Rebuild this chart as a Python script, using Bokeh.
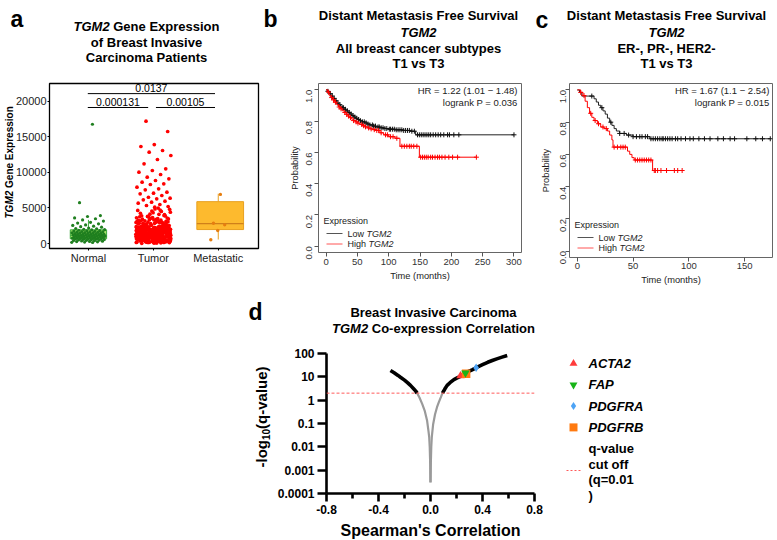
import math
import numpy as np
from bokeh.plotting import figure
from bokeh.layouts import row, column
from bokeh.models import (Range1d, FixedTicker, NumeralTickFormatter, CustomJSTickFormatter,
                          Span, Spacer, GridBox)
from bokeh.core.properties import value
from bokeh.embed import file_html
from bokeh.resources import INLINE

FONT = "Liberation Sans"

# ---------------------------------------------------------------- data
# panel a : TGM2 expression
groups = ["Normal", "Tumor", "Metastatic"]
normal_vals = [16750, 5740, 3930, 3790, 3600, 3480, 3310, 3150, 2980, 2870, 2760, 2610,
               2540, 2430, 2360, 2290, 2180, 2110, 2060, 1995, 1940, 1905, 1862, 1818,
               1790, 1745, 1712, 1690, 1655, 1621, 1598, 1570, 1534, 1511, 1486, 1462,
               1433, 1410, 1388, 1365, 1342, 1318, 1296, 1270, 1251, 1228, 1207, 1184,
               1163, 1141, 1122, 1098, 1075, 1057, 1033, 1012, 994, 971, 950, 932, 908,
               887, 866, 845, 822, 803, 778, 756, 731, 712, 688, 661, 640, 612, 588, 563,
               534, 507, 482, 451, 420, 393, 362, 331, 298, 270, 236, 204, 172, 141]
tumor_vals = [
    812, 1530, 245, 1977, 660, 1204, 2288, 431, 1745, 998, 153, 1389, 2105, 720, 1612, 369,
    1853, 1077, 2391, 540, 1290, 85, 1950, 880, 1475, 2214, 312, 1130, 1698, 602, 2037, 1402,
    205, 1819, 957, 2310, 475, 1566, 1249, 790, 2160, 130, 1675, 1023, 398, 1910, 1337, 2255,
    685, 1487, 60, 1790, 1162, 2070, 520, 1604, 934, 2345, 287, 1430, 1885, 745, 1215, 2190,
    448, 1545, 1010, 175, 1965, 1322, 2275, 630, 1720, 1095, 2005, 355, 1452, 866, 2135, 1180,
    560, 1840, 225, 1638, 1265, 2380, 705, 1512, 972, 1995, 410, 1760, 1140, 2230, 95, 1385,
    835, 2085, 1590, 495, 1905, 1058, 2322, 270, 1685, 1225, 765, 2040, 1460, 340, 1815, 920,
    2170, 1355, 585, 1735, 1110, 2295, 190, 1575, 1040, 1930, 655, 1420, 2110, 385, 1800, 1190,
    2360, 735, 1625, 115, 1495, 1875, 1005, 2210, 455, 1280, 1710, 855, 2060, 300, 1540, 1150,
    1985, 615, 2335, 1370, 950, 1775, 230, 1665, 2150, 1085, 520, 1445, 1895, 780, 2265, 1310,
    165, 1650, 1050, 2015, 425, 1525, 895, 2240, 1235, 1830, 690, 1405, 2095, 355, 1165, 1745,
    985, 2370, 575, 1555, 1950, 810, 1265, 2185, 140, 1690, 1075, 2050, 465, 1350,
    1412, 288, 1877, 1033, 2247, 612, 1568, 143, 1996, 1187, 757, 2128, 503, 1699, 1326, 2398,
    874, 1463, 27, 1921, 1068, 2283, 391, 1602, 1245, 814, 2066, 1517, 228, 1843, 968, 2341,
    672, 1409, 1131, 1958, 437, 1776, 2219, 1015, 317, 1629, 1292, 2172, 728, 1884, 1097, 2303,
    561, 1486, 198, 1731, 1177, 2009, 846, 1553, 2386, 379, 1305, 1810, 943, 2234, 638, 1446,
    1116, 1975, 262, 1660, 2097, 1021, 489, 1798, 1348, 2321, 703, 1587, 158, 1902, 1203, 2145,
    859, 1478, 2262, 412, 1746, 1058, 1937, 592, 1381, 2204, 1141, 309, 1665, 2043, 907, 1522,
    2355, 746, 1261, 1864, 472, 1616, 2117, 1002, 1394, 2277, 651, 1725, 209, 1949, 1215, 2185,
    829, 1501, 1835, 364, 1078, 2058, 1642, 544,
    2480, 2620, 2550, 2750, 2900, 2680, 3050, 2830, 3200, 2580, 3350, 2960, 3500, 2710, 3100,
    3650, 2860, 3280, 3800, 2520, 3000, 3420, 3950, 2780, 3150, 4100, 2640, 3580, 3330, 4250,
    2940, 3720, 4400, 3060, 2590, 3880, 4550, 3240, 4700, 2730, 3460, 4850, 3900, 2880, 4120,
    3620, 4980, 3180, 2660, 4330, 3760, 4500, 3010, 4800, 3390, 2810, 4050, 3550, 4650, 3120,
    17180, 15730, 13900, 13620, 13060, 12820, 12360, 11800, 11190, 10490, 10250, 10020, 9690,
    9310, 9080, 8850, 8610, 8380, 8290, 7910, 7680, 7540, 7210, 7070, 6980, 6740, 6500, 6360,
    6280, 6140, 5940, 5800, 5660, 5480, 5340, 5200, 5100]
meta_vals = [6900, 2850, 2620, 1820, 520]
# box statistics: low whisker, q1, median, q3, high whisker
normal_box = [60, 660, 1150, 1920, 3320]
meta_box = [560, 1960, 2800, 5880, 7000]
sig_pairs = [[1, 2], [2, 3], [1, 3]]
sig_pvals = ["0.000131", "0.00105", "0.0137"]

# panel b : all subtypes (time in months, survival probability)
b_low_t = [0, 2, 5, 8, 11, 14, 17, 20, 23, 26, 29, 32, 35, 38, 41, 44, 47, 50, 54, 58, 62,
           66, 70, 75, 80, 86, 92, 100, 110, 122, 134, 143]
b_low_s = [1.0, .99, .975, .96, .945, .93, .915, .905, .895, .885, .875, .865, .855, .845,
           .835, .826, .818, .81, .802, .795, .788, .781, .775, .768, .762, .757, .752, .748,
           .744, .74, .735, .712]
b_low_end = 300
b_low_cens = [3, 7, 10, 13, 16, 19, 22, 26, 28, 31, 34, 37, 40, 43, 46, 49, 52, 55, 58, 61,
              64, 67, 70, 74, 76, 79, 83, 85, 88, 91, 94, 97, 101, 103, 106, 109, 112, 115,
              118, 121, 124, 127, 130, 133, 137, 141, 146, 149, 152, 155, 158, 161, 164, 167,
              171, 175, 179, 183, 188, 194, 197, 204, 212, 300]
b_high_t = [0, 2, 5, 8, 11, 14, 17, 20, 23, 26, 29, 32, 35, 38, 41, 44, 47, 50, 54, 58, 62,
            66, 70, 75, 80, 86, 92, 100, 110, 118, 149]
b_high_s = [1.0, .985, .965, .95, .935, .92, .905, .89, .878, .866, .855, .843, .832, .822,
            .812, .803, .795, .787, .778, .77, .763, .756, .75, .745, .74, .725, .712, .70,
            .69, .639, .569]
b_high_end = 240
b_high_cens = [4, 9, 12, 15, 21, 24, 30, 33, 36, 39, 44, 48, 51, 57, 60, 63, 68, 72, 77, 81,
               84, 88, 95, 98, 103, 107, 113, 121, 125, 129, 133, 136, 140, 145, 151, 154,
               157, 160, 163, 167, 170, 174, 178, 181, 185, 190, 196, 202, 210, 240]

# panel c : ER-, PR-, HER2-
c_low_t = [0, 2, 4, 15, 17, 19, 21, 23, 25, 27, 29, 31, 33, 35, 38, 44, 50, 65]
c_low_s = [1.0, .985, .962, .945, .925, .905, .89, .87, .85, .825, .80, .78, .76, .745, .73,
           .72, .71, .697]
c_low_end = 173
c_low_cens = [13, 22, 30, 38, 42, 46, 50, 53, 56, 58, 61, 63, 66, 68, 70, 72, 74, 76, 77, 79,
              81, 83, 85, 88, 90, 93, 97, 101, 104, 109, 114, 119, 126, 131, 137, 141, 152,
              160, 166, 173]
c_high_t = [0, 3, 5, 7, 9, 11, 13, 15, 18, 21, 24, 27, 29, 31, 32, 45, 47, 49, 51, 67.5]
c_high_s = [1.0, .985, .965, .93, .89, .855, .83, .81, .79, .77, .76, .745, .72, .69, .645,
            .62, .60, .58, .565, .50]
c_high_end = 94
c_high_cens = [3, 6, 12, 16, 19, 23, 26, 33, 36, 39, 41, 43, 52, 54, 56, 58, 60, 62, 64, 66,
               69, 70, 72, 75, 80, 87, 90, 94]

# panel d : Spearman correlation vs -log10(q)
d_neg_sig_r = [-0.308, -0.28, -0.25, -0.231, -0.2, -0.175, -0.154, -0.13, -0.115, -0.103]
d_neg_sig_q = [18.6, 15, 11.5, 9.6, 7.2, 5.5, 4.3, 3.1, 2.5, 2.0]
d_neg_ns_r = [-0.103, -0.085, -0.064, -0.045, -0.026, -0.015, -0.01, -0.006, -0.003, -0.001]
d_neg_ns_q = [2.0, 1.3, 0.69, 0.36, 0.13, 0.045, 0.026, 0.01, 0.0025, 0.0003]
d_pos_ns_r = [0.001, 0.003, 0.006, 0.01, 0.02, 0.035, 0.05, 0.065, 0.08, 0.092]
d_pos_ns_q = [0.0003, 0.0025, 0.01, 0.026, 0.09, 0.25, 0.5, 0.85, 1.35, 2.0]
d_pos_sig_r = [0.092, 0.11, 0.128, 0.15, 0.18, 0.205, 0.23, 0.255, 0.28, 0.32, 0.36, 0.40,
               0.44, 0.475, 0.51, 0.55, 0.59]
d_pos_sig_q = [2.0, 3.0, 4.3, 5.6, 7.6, 9.0, 10.5, 13, 15.8, 20, 25.8, 33, 42, 50, 59, 70, 82]
genes = ["ACTA2", "FAP", "PDGFRA", "PDGFRB"]
gene_r = [0.231, 0.269, 0.351, 0.274]
gene_q = [11.0, 14.8, 24.3, 13.5]
q_cutoff = 0.01

gene_markers = ["triangle", "inverted_triangle", "diamond", "square"]
gene_colors = ["#FF3B3B", "#18B418", "#4DA3F5", "#FF7A10"]

# ---------------------------------------------------------------- helpers
REG = {' ': 278, '-': 333, '(': 333, ')': 333, '.': 278, ',': 278, '=': 584, "'": 191,
       'A': 667, 'B': 667, 'C': 722, 'D': 722, 'E': 667, 'F': 611, 'G': 778, 'H': 722,
       'I': 278, 'L': 556, 'M': 833, 'N': 722, 'O': 778, 'P': 667, 'R': 722, 'S': 667,
       'T': 611, 'a': 556, 'b': 556, 'c': 500, 'd': 556, 'e': 556, 'f': 278, 'g': 556,
       'h': 556, 'i': 222, 'j': 222, 'k': 500, 'l': 222, 'm': 833, 'n': 556, 'o': 556,
       'p': 556, 'q': 556, 'r': 333, 's': 500, 't': 278, 'u': 556, 'v': 500, 'w': 722,
       'x': 500, 'y': 500}
BOLD = {' ': 278, '-': 333, '(': 333, ')': 333, '.': 278, ',': 278, '=': 584, "'": 238,
        'A': 722, 'B': 722, 'C': 722, 'D': 722, 'E': 667, 'F': 611, 'G': 778, 'H': 722,
        'I': 278, 'L': 611, 'M': 833, 'N': 722, 'O': 778, 'P': 667, 'R': 722, 'S': 667,
        'T': 611, 'a': 556, 'b': 611, 'c': 556, 'd': 611, 'e': 556, 'f': 333, 'g': 611,
        'h': 611, 'i': 278, 'j': 278, 'k': 556, 'l': 278, 'm': 889, 'n': 611, 'o': 611,
        'p': 611, 'q': 611, 'r': 389, 's': 556, 't': 333, 'u': 611, 'v': 556, 'w': 778,
        'x': 556, 'y': 556}


def tw(s, size, bold):
    tab = BOLD if bold else REG
    return sum(tab.get(c, 556) for c in s) * size / 1000.0


def spread(n, half):
    return [((k * 0.6180339887) % 1.0 - 0.5) * 2 * half for k in range(1, n + 1)]


def clean(p):
    p.xgrid.visible = False
    p.ygrid.visible = False
    p.background_fill_color = None
    p.border_fill_color = None
    p.min_border = 0


# ---------------------------------------------------------------- panel a
fa = figure(frame_width=209, frame_height=165, x_range=Range1d(0.4, 3.62),
            y_range=Range1d(-700, 22470), output_backend="svg", toolbar_location=None)
clean(fa)
fa.min_border_left, fa.min_border_right, fa.min_border_top, fa.min_border_bottom = 49, 2, 83, 42
fa.outline_line_color = "black"
fa.outline_line_width = 1.3
fa.xaxis.ticker = FixedTicker(ticks=[1, 2, 3])
fa.xaxis.major_label_overrides = {i + 1: g for i, g in enumerate(groups)}
fa.yaxis.ticker = FixedTicker(ticks=[0, 5000, 10000, 15000, 20000])
for ax in (fa.xaxis[0], fa.yaxis[0]):
    ax.axis_line_color = None
    ax.major_tick_out = 2
    ax.major_tick_in = 0
    ax.minor_tick_line_color = None
    ax.major_label_text_font = FONT
    ax.major_label_text_font_size = "11px"
    ax.major_label_text_color = "#222222"
    ax.major_label_standoff = 1

fa.vbar(x=[1], width=0.56, bottom=[normal_box[1]], top=[normal_box[3]],
        fill_color="#A8E46A", line_color="#3DAA3D", line_width=1)
fa.segment(x0=[1, 0.72], y0=[normal_box[3], normal_box[2]], x1=[1, 1.28],
           y1=[normal_box[4], normal_box[2]], line_color="#3DAA3D", line_width=1)
fa.scatter(x=[1 + d for d in spread(len(normal_vals), 0.26)], y=normal_vals, size=3.2,
           color="#1F7F1F", line_width=0)
fa.scatter(x=[2 + d for d in spread(len(tumor_vals), 0.27)], y=tumor_vals, size=3.7,
           color="#FF0000", line_width=0)
fa.segment(x0=[3, 3], y0=[meta_box[0], meta_box[3]], x1=[3, 3], y1=[meta_box[1], meta_box[4]],
           line_color="#E8A020", line_width=1)
fa.vbar(x=[3.03], width=0.72, bottom=[meta_box[1]], top=[meta_box[3]],
        fill_color="#FDBA2E", line_color="#E8A020", line_width=1)
fa.segment(x0=[2.67], y0=[meta_box[2]], x1=[3.39], y1=[meta_box[2]], line_color="#D0801A",
           line_width=1.2)
fa.scatter(x=[3 + d for d in spread(len(meta_vals), 0.14)], y=meta_vals, size=3.4,
           color="#E67E10", line_width=0)
levels = [19100, 19100, 21050]
bx0 = [a + (0.04 if a > 1 else -0.01) for a, b in sig_pairs]
bx1 = [b - (0.08 if b < 3 else 0.05) for a, b in sig_pairs]
fa.segment(x0=bx0, y0=levels, x1=bx1, y1=levels, line_color="black", line_width=1)
fa.text(x=[(a + b) / 2 for a, b in zip(bx0, bx1)], y=[l + 250 for l in levels], text=sig_pvals,
        text_font=value(FONT), text_font_size="10.5px", text_align="center",
        text_baseline="bottom", text_color="black")


# ---------------------------------------------------------------- KM panels
def km(p, t, s, end, cens, color, cross_color):
    xs = list(t) + [end]
    ys = list(s) + [s[-1]]
    p.step(x=xs, y=ys, mode="after", line_color=color, line_width=1)
    idx = np.searchsorted(np.array(t), np.array(cens), side="right") - 1
    p.scatter(x=cens, y=[s[i] for i in idx], marker="cross", size=5, line_color=cross_color,
              line_width=1)


def r_axes(p, xt, yt):
    p.outline_line_color = "#666666"
    p.outline_line_width = 1
    p.xaxis.ticker = FixedTicker(ticks=xt)
    p.yaxis.ticker = FixedTicker(ticks=yt)
    p.yaxis.formatter = NumeralTickFormatter(format="0.0")
    p.yaxis.major_label_orientation = math.pi / 2
    for ax in (p.xaxis[0], p.yaxis[0]):
        ax.axis_line_color = None
        ax.major_tick_out = 4
        ax.major_tick_in = 0
        ax.major_tick_line_color = "#555555"
        ax.minor_tick_line_color = None
        ax.major_label_text_font = FONT
        ax.major_label_text_font_size = "9.5px"
        ax.major_label_text_color = "#333333"
        ax.axis_label_text_font = FONT
        ax.axis_label_text_font_size = "9.3px"
        ax.axis_label_text_font_style = "normal"
        ax.axis_label_text_color = "#222222"
    p.xaxis.axis_label = "Time (months)"
    p.yaxis.axis_label = "Probability"


fb = figure(frame_width=203, frame_height=169, x_range=Range1d(-12, 312),
            y_range=Range1d(-0.04, 1.04), output_backend="svg", toolbar_location=None)
clean(fb)
fb.min_border_left, fb.min_border_right, fb.min_border_top, fb.min_border_bottom = 58, 6, 83, 38
r_axes(fb, [0, 50, 100, 150, 200, 250, 300], [0, 0.2, 0.4, 0.6, 0.8, 1.0])
fb.xaxis.major_label_standoff = 2
fb.xaxis.axis_label_standoff = 3
fb.yaxis.major_label_standoff = 5
fb.yaxis.axis_label_standoff = 1
km(fb, b_low_t, b_low_s, b_low_end, b_low_cens, "#222222", "#111111")
km(fb, b_high_t, b_high_s, b_high_end, b_high_cens, "#FF0000", "#FF0000")

fc = figure(frame_width=203, frame_height=174, x_range=Range1d(-7, 175),
            y_range=Range1d(-0.04, 1.04), output_backend="svg", toolbar_location=None)
clean(fc)
fc.min_border_left, fc.min_border_right, fc.min_border_top, fc.min_border_bottom = 42, 5, 83, 33
r_axes(fc, [0, 50, 100, 150], [0, 0.2, 0.4, 0.6, 0.8, 1.0])
fc.xaxis.major_label_standoff = 1
fc.xaxis.axis_label_standoff = 3
fc.yaxis.major_label_standoff = 2
fc.yaxis.axis_label_standoff = 4
km(fc, c_low_t, c_low_s, c_low_end, c_low_cens, "#222222", "#111111")
km(fc, c_high_t, c_high_s, c_high_end, c_high_cens, "#FF0000", "#FF0000")

# ---------------------------------------------------------------- panel d
fd = figure(frame_width=208, frame_height=140, x_range=Range1d(-0.8, 0.8),
            y_range=Range1d(1e-4, 100), y_axis_type="log", output_backend="svg",
            toolbar_location=None)
clean(fd)
fd.min_border_left, fd.min_border_right, fd.min_border_top, fd.min_border_bottom = 86, 26, 63, 47
fd.outline_line_color = None
fd.xaxis.ticker = FixedTicker(ticks=[-0.8, -0.4, 0, 0.4, 0.8], minor_ticks=[-0.6, -0.2, 0.2, 0.6])
fd.xaxis.formatter = NumeralTickFormatter(format="0.0")
fd.yaxis.ticker = FixedTicker(ticks=[1e-4, 1e-3, 1e-2, 1e-1, 1, 10, 100], minor_ticks=[])
fd.yaxis.formatter = CustomJSTickFormatter(code="return tick.toString();")
for ax in (fd.xaxis[0], fd.yaxis[0]):
    ax.axis_line_color = "black"
    ax.axis_line_width = 2.6
    ax.major_tick_line_width = 2.6
    ax.major_tick_in = 0
    ax.major_label_text_font = FONT
    ax.major_label_text_font_size = "12px"
    ax.major_label_text_font_style = "bold"
    ax.major_label_text_color = "black"
fd.yaxis.major_tick_out = 9
fd.yaxis.major_label_standoff = 3
fd.yaxis.minor_tick_line_color = None
fd.xaxis.major_tick_out = 8
fd.xaxis.minor_tick_out = 5
fd.xaxis.minor_tick_in = 0
fd.xaxis.minor_tick_line_width = 2.6
fd.xaxis.major_label_standoff = 3
fd.xaxis.axis_label = "Spearman's Correlation"
fd.xaxis.axis_label_text_font = FONT
fd.xaxis.axis_label_text_font_size = "16px"
fd.xaxis.axis_label_text_font_style = "bold"
fd.xaxis.axis_label_text_color = "black"
fd.xaxis.axis_label_standoff = 5

fd.line(x=d_neg_ns_r, y=d_neg_ns_q, line_color="#9A9A9A", line_width=2.2)
fd.line(x=d_pos_ns_r, y=d_pos_ns_q, line_color="#9A9A9A", line_width=2.2)
fd.line(x=d_neg_sig_r, y=d_neg_sig_q, line_color="black", line_width=3.6)
fd.line(x=d_pos_sig_r, y=d_pos_sig_q, line_color="black", line_width=3.6)
fd.add_layout(Span(location=-math.log10(q_cutoff), dimension="width", line_color="#FF5A5A",
                   line_width=1, line_dash="3 2"))
draw_order = [0, 3, 2, 1]   # FAP drawn last, on top of PDGFRB as in the original
fd.scatter(x=[gene_r[i] for i in draw_order], y=[gene_q[i] for i in draw_order],
           marker=[gene_markers[i] for i in draw_order],
           color=[gene_colors[i] for i in draw_order], size=8.5, line_width=0)

# ---------------------------------------------------------------- overlay for titles/labels
W, H = 777, 540
ov = figure(width=W, height=H, x_range=Range1d(0, W), y_range=Range1d(0, H),
            x_axis_location=None, y_axis_location=None, output_backend="svg",
            toolbar_location=None)
clean(ov)
ov.outline_line_color = None


def T(X, Y, text, size, style="normal", align="left", baseline="middle", color="black",
      angle=0.0):
    ov.text(x=[X], y=[H - Y], text=[text], text_font=value(FONT),
            text_font_size=f"{size}px", text_font_style=style, text_align=align,
            text_baseline=baseline, text_color=color, angle=angle)


def T_line(X, Y, pieces, size, align="center", color="black"):
    widths = [tw(t, size, "bold" in st) for t, st in pieces]
    total = sum(widths)
    x = X - total / 2 if align == "center" else (X - total if align == "right" else X)
    for (t, st), w in zip(pieces, widths):
        lead = len(t) - len(t.lstrip(" "))
        T(x + tw(" " * lead, size, "bold" in st), Y, t.strip(" "), size, st, "left",
          "middle", color)
        x += w


def T_vline(X, Ybot, pieces, color="black"):
    y = Ybot
    for t, st, size, dx in pieces:
        lead = len(t) - len(t.lstrip(" "))
        T(X + dx, y - tw(" " * lead, size, "bold" in st), t.strip(" "), size, st, "left",
          "middle", color, angle=math.pi / 2)
        y -= tw(t, size, "bold" in st)


def km_legend(X, Y):
    T(X, Y, "Expression", 9, color="#222222")
    for k, (lab, col) in enumerate([("Low", "#555555"), ("High", "#FF5555")]):
        yy = Y + 13 + 10.5 * k
        ov.segment(x0=[X + 3], y0=[H - yy], x1=[X + 19], y1=[H - yy], line_color=col,
                   line_width=1)
        T_line(X + 24, yy, [(lab, "normal"), (" TGM2", "italic")], 9, align="left",
               color="#222222")


# panel a texts
T(10, 18, "a", 23, "bold", baseline="alphabetic")
T_line(146, 26, [("TGM2", "bold italic"), (" Gene Expression", "bold")], 13)
T_line(146, 42, [("of Breast Invasive", "bold")], 13)
T_line(146, 57, [("Carcinoma Patients", "bold")], 13)
T_vline(9, 218, [("TGM2", "bold italic", 10, 0), (" Gene Expression", "bold", 10, 0)])

# panel b texts
T(263, 18, "b", 23, "bold", baseline="alphabetic")
T_line(418, 15, [("Distant Metastasis Free Survival", "bold")], 13)
T_line(418, 32, [("TGM2", "bold italic")], 13)
T_line(418, 48, [("All breast cancer subtypes", "bold")], 13)
T_line(418, 63, [("T1 vs T3", "bold")], 13)
T(517, 90, "HR = 1.22 (1.01 \u2212 1.48)", 9.5, align="right", color="#222222")
T(517, 102, "logrank P = 0.036", 9.5, align="right", color="#222222")
km_legend(323, 220)

# panel c texts
T(535, 19, "c", 23, "bold", baseline="alphabetic")
T_line(666, 15, [("Distant Metastasis Free Survival", "bold")], 13)
T_line(666, 32, [("TGM2", "bold italic")], 13)
T_line(666, 48, [("ER-, PR-, HER2-", "bold")], 13)
T_line(666, 63, [("T1 vs T3", "bold")], 13)
T(769, 90, "HR = 1.67 (1.1 \u2212 2.54)", 9.5, align="right", color="#222222")
T(769, 102, "logrank P = 0.015", 9.5, align="right", color="#222222")
km_legend(574, 224)

# panel d texts
T(248, 311, "d", 23, "bold", baseline="alphabetic")
T_line(433, 312, [("Breast Invasive Carcinoma", "bold")], 13)
T_line(433, 328, [("TGM2", "bold italic"), (" Co-expression Correlation", "bold")], 13)
T_vline(261, 467, [("-log", "bold", 15, 0), ("10", "bold", 10, 4), ("(q-value)", "bold", 15, 0)])

# legend of d
rows_y = [363 + 21.3 * i for i in range(len(genes))]
ov.scatter(x=[573] * len(genes), y=[H - y for y in rows_y], marker=gene_markers,
           color=gene_colors, size=8, line_width=0)
for g, y in zip(genes, rows_y):
    T(588, y, g, 13, "bold italic")
for i, s in enumerate(["q-value", "cut off", "(q=0.01", ")"]):
    T(588, 448 + 15.7 * i, s, 13, "bold")
ov.segment(x0=[566], y0=[H - 470], x1=[581], y1=[H - 470], line_color="#FF5A5A",
           line_width=1, line_dash="2 2")

panels = column(row(fa, fb, fc),
                row(Spacer(width=240, height=250), fd, Spacer(width=217, height=250)))
layout = GridBox(children=[(panels, 0, 0), (ov, 0, 0)])
open("out.html", "w").write(file_html(layout, INLINE))
